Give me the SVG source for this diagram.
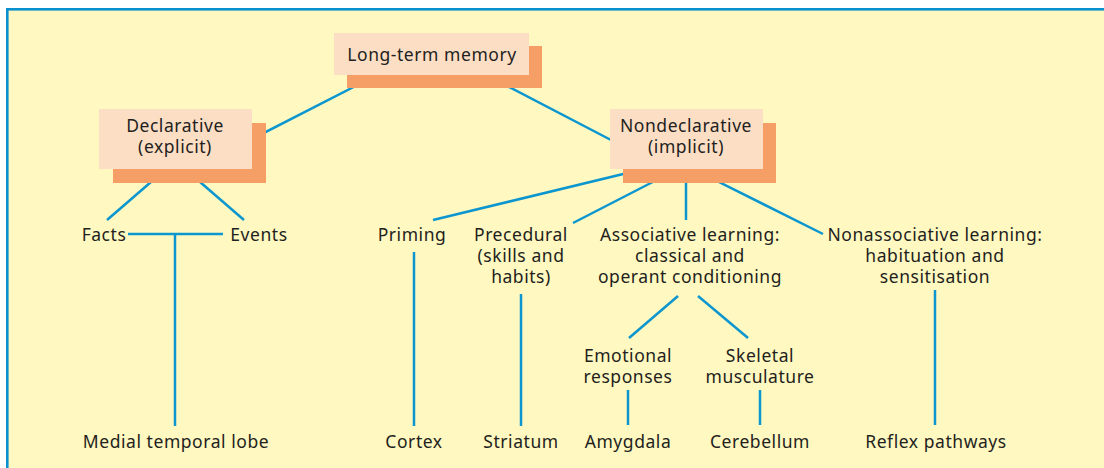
<svg xmlns="http://www.w3.org/2000/svg" width="1104" height="468" viewBox="0 0 1104 468">
  <style>
    .frame { fill: #FFF8C0; stroke: #0A8FCF; stroke-width: 2.6; }
    .box { fill: #FCDEC5; }
    .shadow { fill: #F59E66; }
    .link { stroke: #0C96D0; stroke-width: 2.5; fill: none; stroke-linecap: butt; }
    text { font-family: "Noto Sans", "Open Sans", "Liberation Sans", sans-serif; font-size: 17.5px; letter-spacing: 0.55px; fill: #231F20; text-anchor: middle; }
  </style>

  <!-- panel -->
  <rect class="frame" x="7.3" y="9.3" width="1110" height="470"/>

  <!-- connectors -->
  <g id="connectors">
    <line class="link" x1="377" y1="75" x2="252" y2="139"/>
    <line class="link" x1="486" y1="75" x2="611" y2="140"/>
    <line class="link" x1="166" y1="169" x2="107" y2="220"/>
    <line class="link" x1="185" y1="169" x2="244" y2="220"/>
    <line class="link" x1="128" y1="234" x2="223" y2="234"/>
    <line class="link" x1="175" y1="234" x2="175" y2="426"/>
    <line class="link" x1="648" y1="168" x2="433" y2="220"/>
    <line class="link" x1="678" y1="169" x2="573" y2="223"/>
    <line class="link" x1="686" y1="169" x2="686" y2="220"/>
    <line class="link" x1="693" y1="169" x2="823" y2="234"/>
    <line class="link" x1="414" y1="252" x2="414" y2="426"/>
    <line class="link" x1="521" y1="294" x2="521" y2="426"/>
    <line class="link" x1="678" y1="296" x2="629" y2="338"/>
    <line class="link" x1="698" y1="296" x2="748" y2="338"/>
    <line class="link" x1="628" y1="390" x2="628" y2="425"/>
    <line class="link" x1="760" y1="390" x2="760" y2="425"/>
    <line class="link" x1="935" y1="290" x2="935" y2="425"/>
  </g>

  <!-- top level -->
  <g id="long-term-memory">
    <rect class="shadow" x="347" y="46" width="195" height="42"/>
    <rect class="box" x="334" y="33" width="195" height="42"/>
    <text x="432" y="61">Long-term memory</text>
  </g>

  <g id="declarative">
    <rect class="shadow" x="113" y="123" width="153" height="60"/>
    <rect class="box" x="99" y="109" width="153" height="60"/>
    <text x="175" y="132">Declarative<tspan x="175" dy="21">(explicit)</tspan></text>
  </g>

  <g id="nondeclarative">
    <rect class="shadow" x="623" y="123" width="153" height="60"/>
    <rect class="box" x="610" y="109" width="153" height="60"/>
    <text x="686" y="132">Nondeclarative<tspan x="686" dy="21">(implicit)</tspan></text>
  </g>

  <!-- second level -->
  <g id="facts"><text x="104" y="241">Facts</text></g>
  <g id="events"><text x="259" y="241">Events</text></g>
  <g id="priming"><text x="412" y="241">Priming</text></g>
  <g id="precedural">
    <text x="521" y="241">Precedural<tspan x="521" dy="21">(skills and</tspan><tspan x="521" dy="21">habits)</tspan></text>
  </g>
  <g id="associative">
    <text x="690" y="241">Associative learning:<tspan x="690" dy="21">classical and</tspan><tspan x="690" dy="21">operant conditioning</tspan></text>
  </g>
  <g id="nonassociative">
    <text x="935" y="241">Nonassociative learning:<tspan x="935" dy="21">habituation and</tspan><tspan x="935" dy="21">sensitisation</tspan></text>
  </g>

  <g id="emotional">
    <text x="628" y="362">Emotional<tspan x="628" dy="20.5">responses</tspan></text>
  </g>
  <g id="skeletal">
    <text x="760" y="362">Skeletal<tspan x="760" dy="20.5">musculature</tspan></text>
  </g>

  <!-- brain structures -->
  <g id="medial-temporal-lobe"><text x="176" y="448">Medial temporal lobe</text></g>
  <g id="cortex"><text x="414" y="448">Cortex</text></g>
  <g id="striatum"><text x="521" y="448">Striatum</text></g>
  <g id="amygdala"><text x="628" y="448">Amygdala</text></g>
  <g id="cerebellum"><text x="760" y="448">Cerebellum</text></g>
  <g id="reflex-pathways"><text x="936" y="448">Reflex pathways</text></g>
</svg>
